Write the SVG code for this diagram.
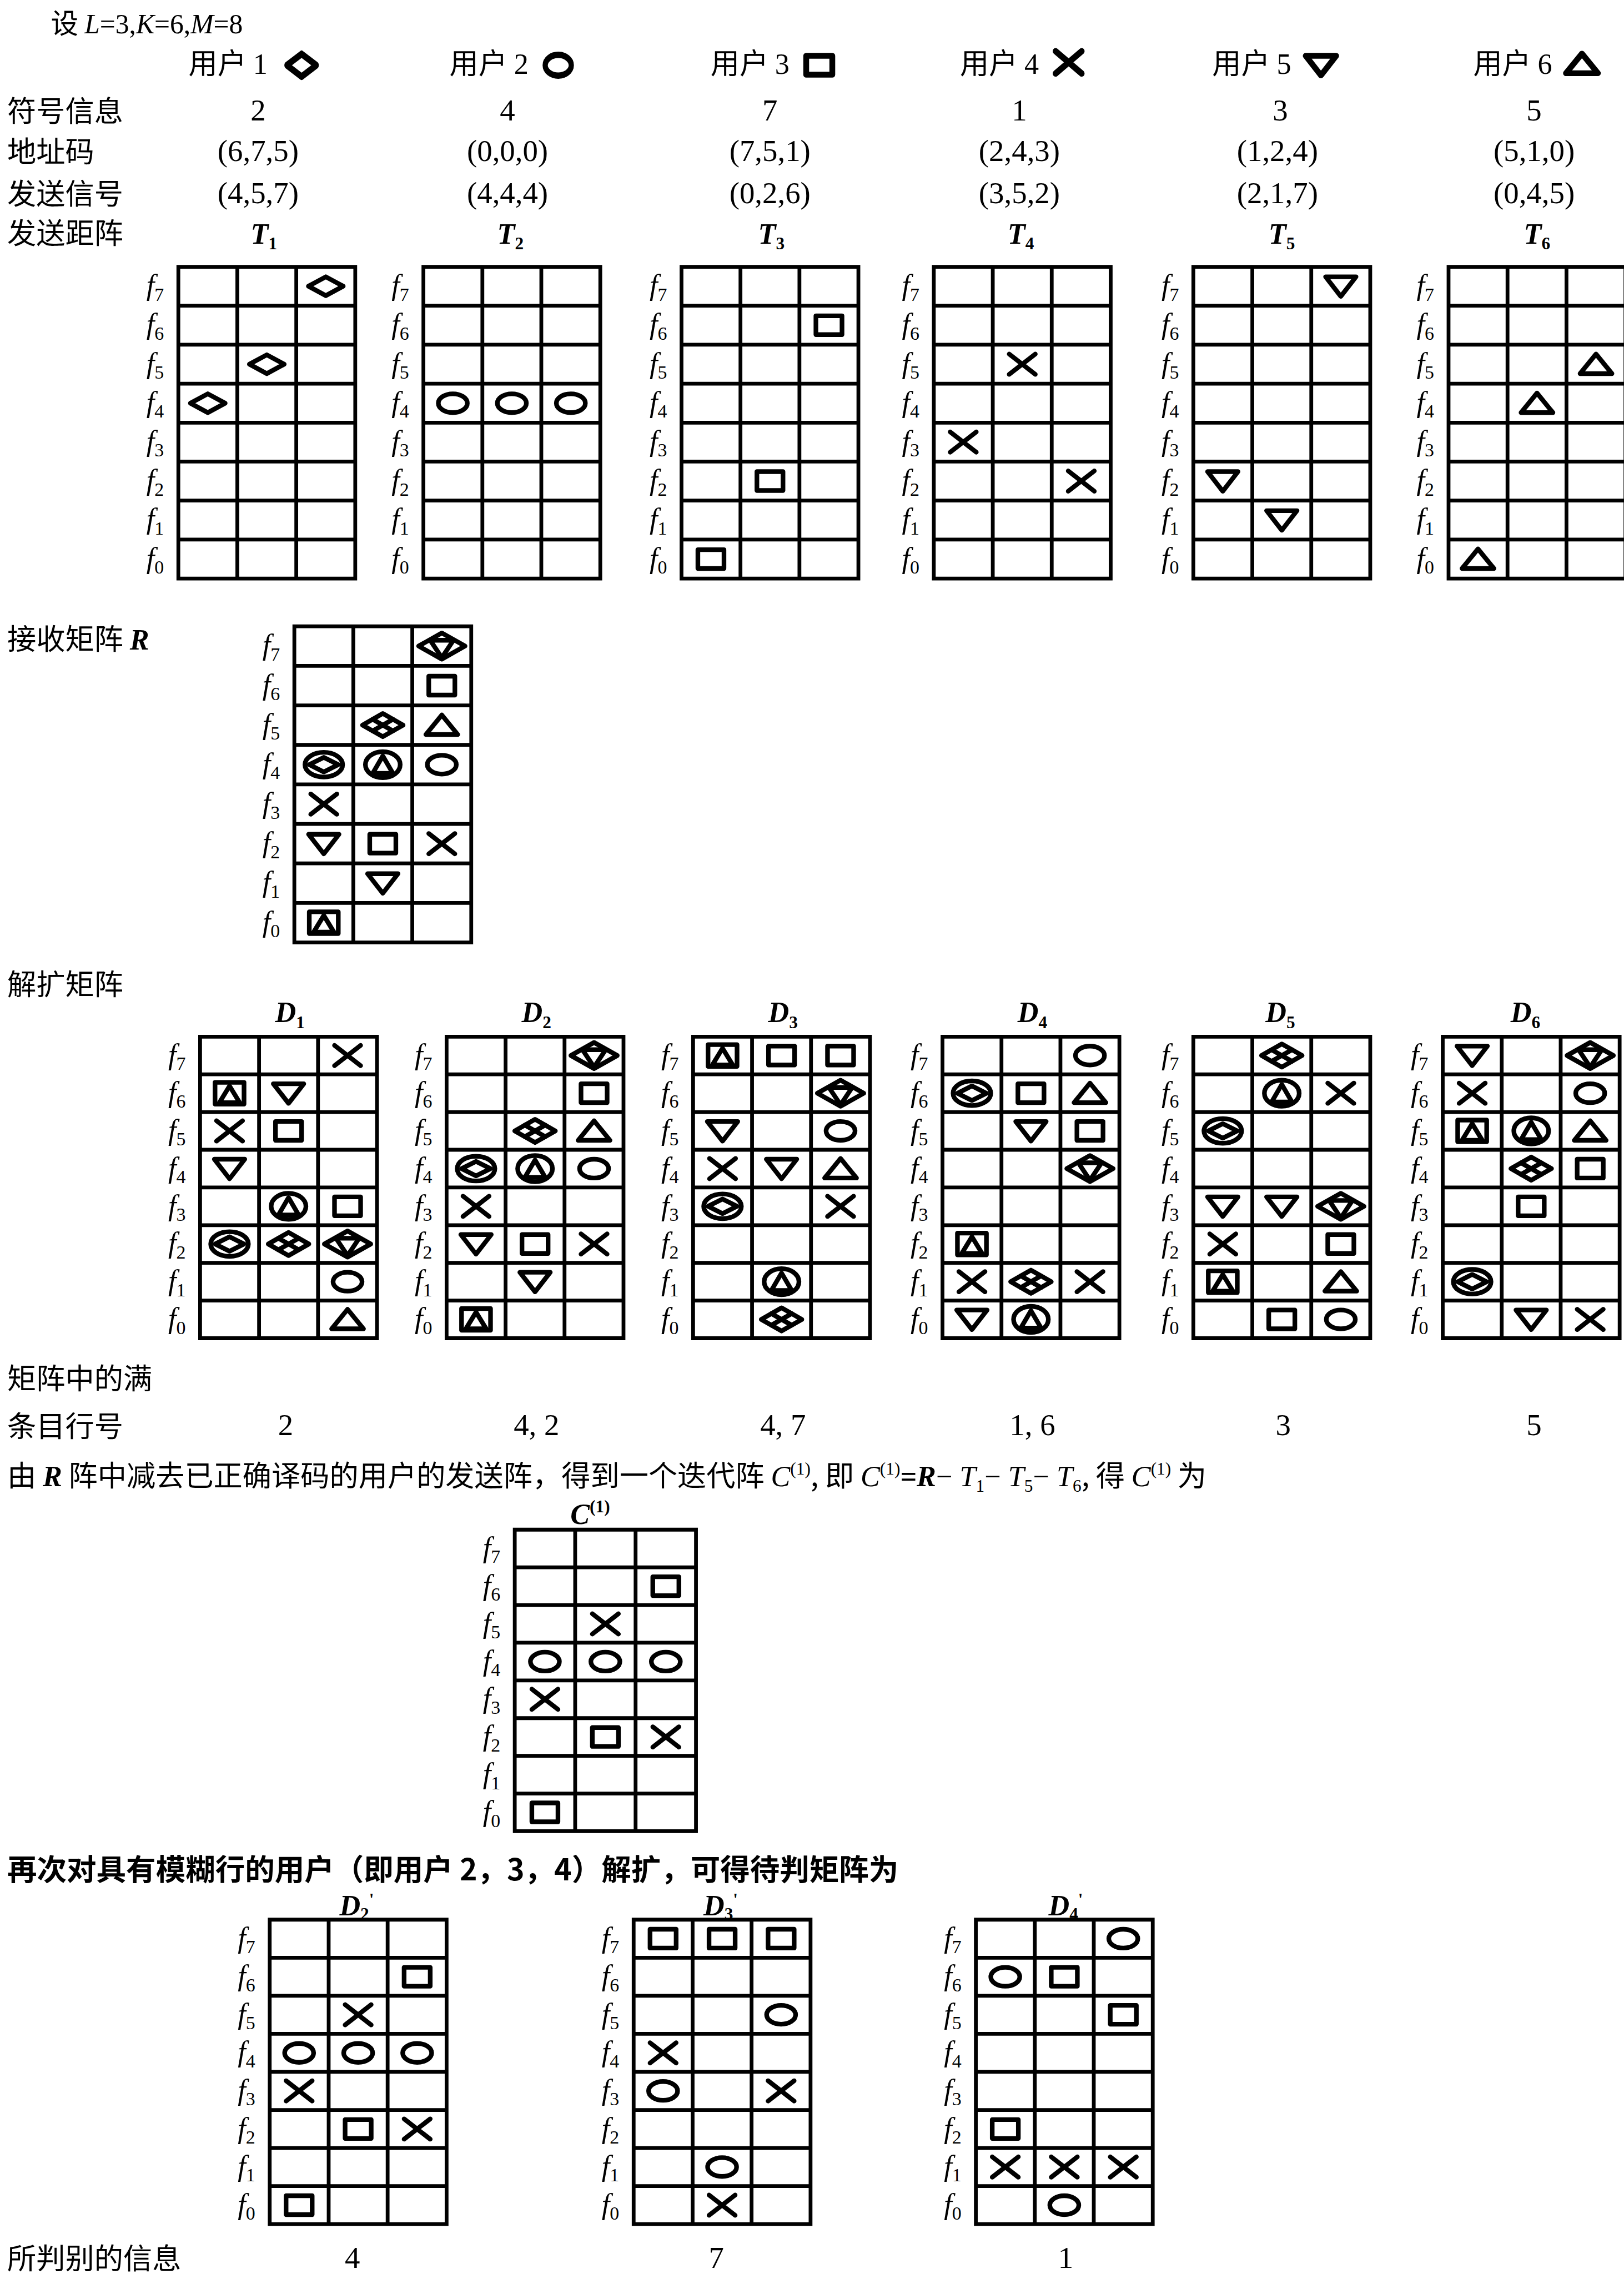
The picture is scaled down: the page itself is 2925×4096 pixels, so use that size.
<svg xmlns="http://www.w3.org/2000/svg" width="2925" height="4096" viewBox="0 0 2925 4096">
<style>
.cn{font-family:"Noto Sans CJK SC","Liberation Serif",sans-serif;font-size:20px;fill:#000}
.cnb{font-family:"Noto Sans CJK SC",sans-serif;font-size:20.5px;font-weight:bold;fill:#000}
.num{font-family:"Liberation Serif",serif;font-size:21px;fill:#000;text-anchor:middle}
.lab{font-family:"Liberation Serif",serif;font-size:20px;font-weight:bold;font-style:italic;fill:#000;text-anchor:middle}
.bi{font-family:"Liberation Serif",serif;font-weight:bold;font-style:italic}
.it{font-family:"Liberation Serif",serif;font-style:italic}
.rm{font-family:"Liberation Serif",serif}
.sb{font-family:"Liberation Serif",serif;font-size:12px;font-style:normal}
.sp{font-family:"Liberation Serif",serif;font-size:12px;font-style:normal}
.f{font-family:"Liberation Serif",serif;font-style:italic;font-size:20px;fill:#000;stroke:none}
.fs{font-size:13px;font-style:normal}
.gl{fill:none;stroke:#000;stroke-width:2.6}
.s{fill:none;stroke:#000;stroke-width:3.2;stroke-linejoin:round;stroke-linecap:round}
.sh{fill:none;stroke:#000;stroke-width:4;stroke-linejoin:round;stroke-linecap:round}
</style>
<defs>
<g id="dia"><polygon points="-12,0 0,-6.5 12,0 0,6.5"/></g>
<g id="cir"><ellipse rx="10" ry="6.5"/></g>
<g id="sq"><rect x="-9" y="-6.5" width="18" height="13"/></g>
<g id="xx"><path d="M-9,-7L9,7M-9,7L9,-7"/></g>
<g id="tdn"><polygon points="-10.5,-6.5 10.5,-6.5 0,7"/></g>
<g id="tup"><polygon points="-11,6.5 11,6.5 0,-7"/></g>
<g id="dia4"><polygon points="-14,0 0,-8 14,0 0,8"/><path d="M-7,-4L7,4M-7,4L7,-4"/></g>
<g id="dcir"><ellipse rx="13" ry="8.5"/><polygon points="-10,0 0,-5 10,0 0,5"/></g>
<g id="ctri"><ellipse rx="12" ry="9"/><polygon points="-7,6 7,6 0,-6"/></g>
<g id="sqtri"><rect x="-10" y="-7.5" width="20" height="15"/><polygon points="-7,6.5 7,6.5 0,-5"/></g>
<g id="dtdn"><polygon points="-16,0 0,-9 16,0 0,9"/><polygon points="-8,-4 8,-4 0,8"/></g>

<g id="gT">
<path class="gl" d="M0 0H122V215H0ZM40.67 0V215M81.33 0V215M0 26.875H122M0 53.75H122M0 80.625H122M0 107.5H122M0 134.375H122M0 161.25H122M0 188.125H122"/>
<text class="f" x="-22" y="19.4">f<tspan class="fs" dy="4">7</tspan></text>
<text class="f" x="-22" y="46.3">f<tspan class="fs" dy="4">6</tspan></text>
<text class="f" x="-22" y="73.2">f<tspan class="fs" dy="4">5</tspan></text>
<text class="f" x="-22" y="100.1">f<tspan class="fs" dy="4">4</tspan></text>
<text class="f" x="-22" y="126.9">f<tspan class="fs" dy="4">3</tspan></text>
<text class="f" x="-22" y="153.8">f<tspan class="fs" dy="4">2</tspan></text>
<text class="f" x="-22" y="180.7">f<tspan class="fs" dy="4">1</tspan></text>
<text class="f" x="-22" y="207.6">f<tspan class="fs" dy="4">0</tspan></text>
</g>
<g id="gR">
<path class="gl" d="M0 0H122V218H0ZM40.67 0V218M81.33 0V218M0 27.25H122M0 54.5H122M0 81.75H122M0 109H122M0 136.25H122M0 163.5H122M0 190.75H122"/>
<text class="f" x="-22" y="19.6">f<tspan class="fs" dy="4">7</tspan></text>
<text class="f" x="-22" y="46.9">f<tspan class="fs" dy="4">6</tspan></text>
<text class="f" x="-22" y="74.1">f<tspan class="fs" dy="4">5</tspan></text>
<text class="f" x="-22" y="101.4">f<tspan class="fs" dy="4">4</tspan></text>
<text class="f" x="-22" y="128.6">f<tspan class="fs" dy="4">3</tspan></text>
<text class="f" x="-22" y="155.9">f<tspan class="fs" dy="4">2</tspan></text>
<text class="f" x="-22" y="183.1">f<tspan class="fs" dy="4">1</tspan></text>
<text class="f" x="-22" y="210.4">f<tspan class="fs" dy="4">0</tspan></text>
</g>
<g id="gD">
<path class="gl" d="M0 0H122V208H0ZM40.67 0V208M81.33 0V208M0 26H122M0 52H122M0 78H122M0 104H122M0 130H122M0 156H122M0 182H122"/>
<text class="f" x="-22" y="19">f<tspan class="fs" dy="4">7</tspan></text>
<text class="f" x="-22" y="45">f<tspan class="fs" dy="4">6</tspan></text>
<text class="f" x="-22" y="71">f<tspan class="fs" dy="4">5</tspan></text>
<text class="f" x="-22" y="97">f<tspan class="fs" dy="4">4</tspan></text>
<text class="f" x="-22" y="123">f<tspan class="fs" dy="4">3</tspan></text>
<text class="f" x="-22" y="149">f<tspan class="fs" dy="4">2</tspan></text>
<text class="f" x="-22" y="175">f<tspan class="fs" dy="4">1</tspan></text>
<text class="f" x="-22" y="201">f<tspan class="fs" dy="4">0</tspan></text>
</g>
<g id="gC">
<path class="gl" d="M0 0H125V208H0ZM41.67 0V208M83.33 0V208M0 26H125M0 52H125M0 78H125M0 104H125M0 130H125M0 156H125M0 182H125"/>
<text class="f" x="-22" y="19">f<tspan class="fs" dy="4">7</tspan></text>
<text class="f" x="-22" y="45">f<tspan class="fs" dy="4">6</tspan></text>
<text class="f" x="-22" y="71">f<tspan class="fs" dy="4">5</tspan></text>
<text class="f" x="-22" y="97">f<tspan class="fs" dy="4">4</tspan></text>
<text class="f" x="-22" y="123">f<tspan class="fs" dy="4">3</tspan></text>
<text class="f" x="-22" y="149">f<tspan class="fs" dy="4">2</tspan></text>
<text class="f" x="-22" y="175">f<tspan class="fs" dy="4">1</tspan></text>
<text class="f" x="-22" y="201">f<tspan class="fs" dy="4">0</tspan></text>
</g>
<g id="gP">
<path class="gl" d="M0 0H122V210H0ZM40.67 0V210M81.33 0V210M0 26.25H122M0 52.5H122M0 78.75H122M0 105H122M0 131.25H122M0 157.5H122M0 183.75H122"/>
<text class="f" x="-22" y="19.1">f<tspan class="fs" dy="4">7</tspan></text>
<text class="f" x="-22" y="45.4">f<tspan class="fs" dy="4">6</tspan></text>
<text class="f" x="-22" y="71.6">f<tspan class="fs" dy="4">5</tspan></text>
<text class="f" x="-22" y="97.9">f<tspan class="fs" dy="4">4</tspan></text>
<text class="f" x="-22" y="124.1">f<tspan class="fs" dy="4">3</tspan></text>
<text class="f" x="-22" y="150.4">f<tspan class="fs" dy="4">2</tspan></text>
<text class="f" x="-22" y="176.6">f<tspan class="fs" dy="4">1</tspan></text>
<text class="f" x="-22" y="202.9">f<tspan class="fs" dy="4">0</tspan></text>
</g>
</defs>
<rect width="2925" height="4096" fill="#fff"/>
<g transform="scale(2.6116)">

<g id="header">
<text class="cn" x="35" y="23" style="font-size:19px">设 <tspan class="it">L</tspan><tspan class="rm">=3,</tspan><tspan class="it">K</tspan><tspan class="rm">=6,</tspan><tspan class="it">M</tspan><tspan class="rm">=8</tspan></text>
<text class="cn" x="130" y="51">用户 <tspan class="rm">1</tspan></text>
<text class="cn" x="310" y="51">用户 <tspan class="rm">2</tspan></text>
<text class="cn" x="490" y="51">用户 <tspan class="rm">3</tspan></text>
<text class="cn" x="662" y="51">用户 <tspan class="rm">4</tspan></text>
<text class="cn" x="836" y="51">用户 <tspan class="rm">5</tspan></text>
<text class="cn" x="1016" y="51">用户 <tspan class="rm">6</tspan></text>
<g class="sh">
<use href="#dia" transform="translate(208,45) scale(0.85,1.2)"/>
<use href="#cir" transform="translate(385,45) scale(0.9,1.1)"/>
<use href="#sq" transform="translate(565,45)"/>
<use href="#xx" transform="translate(737,43) scale(1,1.1)"/>
<use href="#tdn" transform="translate(911,45)"/>
<use href="#tup" transform="translate(1091,44)"/>
</g>
<text class="cn" x="5" y="84">符号信息</text>
<text class="cn" x="5" y="112">地址码</text>
<text class="cn" x="5" y="141">发送信号</text>
<text class="cn" x="5" y="168">发送距阵</text>
<text class="num" x="178" y="83">2</text>
<text class="num" x="350" y="83">4</text>
<text class="num" x="531" y="83">7</text>
<text class="num" x="703" y="83">1</text>
<text class="num" x="883" y="83">3</text>
<text class="num" x="1058" y="83">5</text>
<text class="num" x="178" y="111">(6,7,5)</text>
<text class="num" x="350" y="111">(0,0,0)</text>
<text class="num" x="531" y="111">(7,5,1)</text>
<text class="num" x="703" y="111">(2,4,3)</text>
<text class="num" x="881" y="111">(1,2,4)</text>
<text class="num" x="1058" y="111">(5,1,0)</text>
<text class="num" x="178" y="140">(4,5,7)</text>
<text class="num" x="350" y="140">(4,4,4)</text>
<text class="num" x="531" y="140">(0,2,6)</text>
<text class="num" x="703" y="140">(3,5,2)</text>
<text class="num" x="881" y="140">(2,1,7)</text>
<text class="num" x="1058" y="140">(0,4,5)</text>
<text class="lab" x="182" y="168">T<tspan class="sb" dy="4">1</tspan></text>
<text class="lab" x="352" y="168">T<tspan class="sb" dy="4">2</tspan></text>
<text class="lab" x="532" y="168">T<tspan class="sb" dy="4">3</tspan></text>
<text class="lab" x="704" y="168">T<tspan class="sb" dy="4">4</tspan></text>
<text class="lab" x="884" y="168">T<tspan class="sb" dy="4">5</tspan></text>
<text class="lab" x="1060" y="168">T<tspan class="sb" dy="4">6</tspan></text>
</g>

<g id="T1" transform="translate(123,184)"><use href="#gT"/><g class="s">
<use href="#dia" x="20.3" y="94.1"/><use href="#dia" x="61" y="67.2"/><use href="#dia" x="101.7" y="13.4"/></g></g>
<g id="T2" transform="translate(292,184)"><use href="#gT"/><g class="s">
<use href="#cir" x="20.3" y="94.1"/><use href="#cir" x="61" y="94.1"/><use href="#cir" x="101.7" y="94.1"/></g></g>
<g id="T3" transform="translate(470,184)"><use href="#gT"/><g class="s">
<use href="#sq" x="20.3" y="201.6"/><use href="#sq" x="61" y="147.8"/><use href="#sq" x="101.7" y="40.3"/></g></g>
<g id="T4" transform="translate(644,184)"><use href="#gT"/><g class="s">
<use href="#xx" x="20.3" y="120.9"/><use href="#xx" x="61" y="67.2"/><use href="#xx" x="101.7" y="147.8"/></g></g>
<g id="T5" transform="translate(823,184)"><use href="#gT"/><g class="s">
<use href="#tdn" x="20.3" y="147.8"/><use href="#tdn" x="61" y="174.7"/><use href="#tdn" x="101.7" y="13.4"/></g></g>
<g id="T6" transform="translate(999,184)"><use href="#gT"/><g class="s">
<use href="#tup" x="20.3" y="201.6"/><use href="#tup" x="61" y="94.1"/><use href="#tup" x="101.7" y="67.2"/></g></g>

<text class="cn" x="5" y="448">接收矩阵 <tspan class="bi">R</tspan></text>
<g id="R" transform="translate(203,432)"><use href="#gR"/><g class="s">
<use href="#dcir" x="20.3" y="95.4"/><use href="#xx" x="20.3" y="122.6"/><use href="#tdn" x="20.3" y="149.9"/><use href="#sqtri" x="20.3" y="204.4"/>
<use href="#dia4" x="61" y="68.1"/><use href="#ctri" x="61" y="95.4"/><use href="#sq" x="61" y="149.9"/><use href="#tdn" x="61" y="177.1"/>
<use href="#dtdn" x="101.7" y="13.6"/><use href="#sq" x="101.7" y="40.9"/><use href="#tup" x="101.7" y="68.1"/><use href="#cir" x="101.7" y="95.4"/><use href="#xx" x="101.7" y="149.9"/>
</g></g>

<text class="cn" x="5" y="686">解扩矩阵</text>
<text class="lab" x="200" y="705">D<tspan class="sb" dy="4">1</tspan></text>
<text class="lab" x="370" y="705">D<tspan class="sb" dy="4">2</tspan></text>
<text class="lab" x="540" y="705">D<tspan class="sb" dy="4">3</tspan></text>
<text class="lab" x="712" y="705">D<tspan class="sb" dy="4">4</tspan></text>
<text class="lab" x="883" y="705">D<tspan class="sb" dy="4">5</tspan></text>
<text class="lab" x="1052" y="705">D<tspan class="sb" dy="4">6</tspan></text>

<g id="D1" transform="translate(138,715)"><use href="#gD"/><g class="s">
<use href="#sqtri" x="20.3" y="39"/><use href="#xx" x="20.3" y="65"/><use href="#tdn" x="20.3" y="91"/><use href="#dcir" x="20.3" y="143"/>
<use href="#tdn" x="61" y="39"/><use href="#sq" x="61" y="65"/><use href="#ctri" x="61" y="117"/><use href="#dia4" x="61" y="143"/>
<use href="#xx" x="101.7" y="13"/><use href="#sq" x="101.7" y="117"/><use href="#dtdn" x="101.7" y="143"/><use href="#cir" x="101.7" y="169"/><use href="#tup" x="101.7" y="195"/>
</g></g>
<g id="D2" transform="translate(308,715)"><use href="#gD"/><g class="s">
<use href="#dcir" x="20.3" y="91"/><use href="#xx" x="20.3" y="117"/><use href="#tdn" x="20.3" y="143"/><use href="#sqtri" x="20.3" y="195"/>
<use href="#dia4" x="61" y="65"/><use href="#ctri" x="61" y="91"/><use href="#sq" x="61" y="143"/><use href="#tdn" x="61" y="169"/>
<use href="#dtdn" x="101.7" y="13"/><use href="#sq" x="101.7" y="39"/><use href="#tup" x="101.7" y="65"/><use href="#cir" x="101.7" y="91"/><use href="#xx" x="101.7" y="143"/>
</g></g>
<g id="D3" transform="translate(478,715)"><use href="#gD"/><g class="s">
<use href="#sqtri" x="20.3" y="13"/><use href="#tdn" x="20.3" y="65"/><use href="#xx" x="20.3" y="91"/><use href="#dcir" x="20.3" y="117"/>
<use href="#sq" x="61" y="13"/><use href="#tdn" x="61" y="91"/><use href="#ctri" x="61" y="169"/><use href="#dia4" x="61" y="195"/>
<use href="#sq" x="101.7" y="13"/><use href="#dtdn" x="101.7" y="39"/><use href="#cir" x="101.7" y="65"/><use href="#tup" x="101.7" y="91"/><use href="#xx" x="101.7" y="117"/>
</g></g>
<g id="D4" transform="translate(650,715)"><use href="#gD"/><g class="s">
<use href="#dcir" x="20.3" y="39"/><use href="#sqtri" x="20.3" y="143"/><use href="#xx" x="20.3" y="169"/><use href="#tdn" x="20.3" y="195"/>
<use href="#sq" x="61" y="39"/><use href="#tdn" x="61" y="65"/><use href="#dia4" x="61" y="169"/><use href="#ctri" x="61" y="195"/>
<use href="#cir" x="101.7" y="13"/><use href="#tup" x="101.7" y="39"/><use href="#sq" x="101.7" y="65"/><use href="#dtdn" x="101.7" y="91"/><use href="#xx" x="101.7" y="169"/>
</g></g>
<g id="D5" transform="translate(823,715)"><use href="#gD"/><g class="s">
<use href="#dcir" x="20.3" y="65"/><use href="#tdn" x="20.3" y="117"/><use href="#xx" x="20.3" y="143"/><use href="#sqtri" x="20.3" y="169"/>
<use href="#dia4" x="61" y="13"/><use href="#ctri" x="61" y="39"/><use href="#tdn" x="61" y="117"/><use href="#sq" x="61" y="195"/>
<use href="#xx" x="101.7" y="39"/><use href="#dtdn" x="101.7" y="117"/><use href="#sq" x="101.7" y="143"/><use href="#tup" x="101.7" y="169"/><use href="#cir" x="101.7" y="195"/>
</g></g>
<g id="D6" transform="translate(995,715)"><use href="#gD"/><g class="s">
<use href="#tdn" x="20.3" y="13"/><use href="#xx" x="20.3" y="39"/><use href="#sqtri" x="20.3" y="65"/><use href="#dcir" x="20.3" y="169"/>
<use href="#ctri" x="61" y="65"/><use href="#dia4" x="61" y="91"/><use href="#sq" x="61" y="117"/><use href="#tdn" x="61" y="195"/>
<use href="#dtdn" x="101.7" y="13"/><use href="#cir" x="101.7" y="39"/><use href="#tup" x="101.7" y="65"/><use href="#sq" x="101.7" y="91"/><use href="#xx" x="101.7" y="195"/>
</g></g>

<text class="cn" x="5" y="958">矩阵中的满</text>
<text class="cn" x="5" y="991">条目行号</text>
<text class="num" x="197" y="990">2</text>
<text class="num" x="370" y="990">4, 2</text>
<text class="num" x="540" y="990">4, 7</text>
<text class="num" x="712" y="990">1, 6</text>
<text class="num" x="885" y="990">3</text>
<text class="num" x="1058" y="990">5</text>

<text class="cn" x="5" y="1025">由 <tspan class="bi">R</tspan> 阵中减去已正确译码的用户的发送阵，得到一个迭代阵 <tspan class="it">C</tspan><tspan class="sp" dy="-8">(1)</tspan><tspan dy="8">, 即 </tspan><tspan class="it">C</tspan><tspan class="sp" dy="-8">(1)</tspan><tspan class="bi" dy="8">=R</tspan><tspan class="rm">− </tspan><tspan class="it">T</tspan><tspan class="sb" dy="4">1</tspan><tspan class="rm" dy="-4">− </tspan><tspan class="it">T</tspan><tspan class="sb" dy="4">5</tspan><tspan class="rm" dy="-4">− </tspan><tspan class="it">T</tspan><tspan class="sb" dy="4">6</tspan><tspan dy="-4">, 得 </tspan><tspan class="it">C</tspan><tspan class="sp" dy="-8">(1)</tspan><tspan dy="8"> 为</tspan></text>

<text class="lab" x="407" y="1051">C<tspan class="sp" dy="-8">(1)</tspan></text>
<g id="C1" transform="translate(355,1055)"><use href="#gC"/><g class="s">
<use href="#cir" x="20.8" y="91"/><use href="#xx" x="20.8" y="117"/><use href="#sq" x="20.8" y="195"/>
<use href="#xx" x="62.5" y="65"/><use href="#cir" x="62.5" y="91"/><use href="#sq" x="62.5" y="143"/>
<use href="#sq" x="104.2" y="39"/><use href="#cir" x="104.2" y="91"/><use href="#xx" x="104.2" y="143"/>
</g></g>

<text class="cnb" x="5" y="1297">再次对具有模糊行的用户（即用户 2，3，4）解扩，可得待判矩阵为</text>
<text class="lab" x="246" y="1321">D<tspan class="sb" dy="3">2</tspan><tspan class="sb" dy="-10">'</tspan></text>
<text class="lab" x="497" y="1321">D<tspan class="sb" dy="3">3</tspan><tspan class="sb" dy="-10">'</tspan></text>
<text class="lab" x="735" y="1321">D<tspan class="sb" dy="3">4</tspan><tspan class="sb" dy="-10">'</tspan></text>

<g id="Dp2" transform="translate(186,1324)"><use href="#gP"/><g class="s">
<use href="#cir" x="20.3" y="91.9"/><use href="#xx" x="20.3" y="118.1"/><use href="#sq" x="20.3" y="196.9"/>
<use href="#xx" x="61" y="65.6"/><use href="#cir" x="61" y="91.9"/><use href="#sq" x="61" y="144.4"/>
<use href="#sq" x="101.7" y="39.4"/><use href="#cir" x="101.7" y="91.9"/><use href="#xx" x="101.7" y="144.4"/>
</g></g>
<g id="Dp3" transform="translate(437,1324)"><use href="#gP"/><g class="s">
<use href="#sq" x="20.3" y="13.1"/><use href="#xx" x="20.3" y="91.9"/><use href="#cir" x="20.3" y="118.1"/>
<use href="#sq" x="61" y="13.1"/><use href="#cir" x="61" y="170.6"/><use href="#xx" x="61" y="196.9"/>
<use href="#sq" x="101.7" y="13.1"/><use href="#cir" x="101.7" y="65.6"/><use href="#xx" x="101.7" y="118.1"/>
</g></g>
<g id="Dp4" transform="translate(673,1324)"><use href="#gP"/><g class="s">
<use href="#cir" x="20.3" y="39.4"/><use href="#sq" x="20.3" y="144.4"/><use href="#xx" x="20.3" y="170.6"/>
<use href="#sq" x="61" y="39.4"/><use href="#xx" x="61" y="170.6"/><use href="#cir" x="61" y="196.9"/>
<use href="#cir" x="101.7" y="13.1"/><use href="#sq" x="101.7" y="65.6"/><use href="#xx" x="101.7" y="170.6"/>
</g></g>

<text class="cn" x="5" y="1565">所判别的信息</text>
<text class="num" x="243" y="1564">4</text>
<text class="num" x="494" y="1564">7</text>
<text class="num" x="735" y="1564">1</text>
</g>
</svg>
